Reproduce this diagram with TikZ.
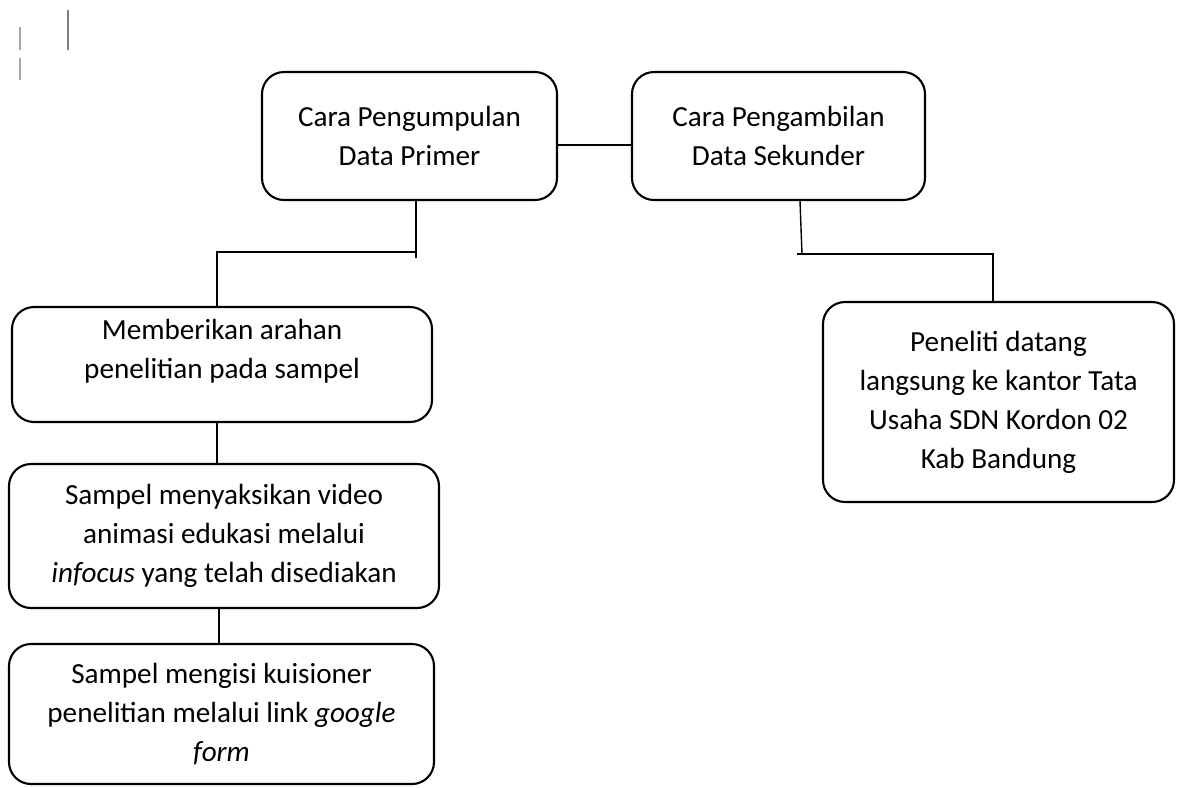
\documentclass[tikz,border=0pt]{standalone}
\usepackage{fontspec}
\setmainfont{Carlito}
\usetikzlibrary{positioning}

\tikzset{
	kotak/.style={draw, line width=0.6pt, rounded corners=0.22cm, align=center, inner sep=0pt, font=\fontsize{8.3}{11.1}\selectfont},
	garis/.style={line width=0.4pt},
}

\begin{document}
\begin{tikzpicture}
		
		\useasboundingbox (0,0) rectangle (11.77,-7.87);
		
		% sisa garis di pojok kiri atas
		\draw[gray!70, line width=0.5pt] (0.20,-0.27) -- (0.20,-0.50);
		\draw[gray!70, line width=0.5pt] (0.20,-0.58) -- (0.20,-0.80);
		\draw[gray, line width=0.6pt] (0.68,-0.10) -- (0.68,-0.50);
		
		\node[kotak, minimum width=2.95cm, minimum height=1.28cm] (primer) at (4.095,-1.36) {Cara Pengumpulan\\Data Primer};
		\node[kotak, minimum width=2.93cm, minimum height=1.28cm] (sekunder) at (7.785,-1.36) {Cara Pengambilan\\Data Sekunder};
		
		% teks kotak ini agak ke atas
		\node[kotak, minimum width=4.20cm, minimum height=1.15cm] (arahan) at (2.22,-3.645) {Memberikan arahan\\penelitian pada sampel\\[-2pt]\mbox{}};
		\node[kotak, minimum width=4.30cm, minimum height=1.44cm] (video) at (2.24,-5.36) {Sampel menyaksikan video\\animasi edukasi melalui\\\textit{infocus} yang telah disediakan};
		\node[kotak, minimum width=4.25cm, minimum height=1.40cm] (kuesioner) at (2.215,-7.14) {Sampel mengisi kuisioner\\penelitian melalui link \textit{google}\\\textit{form}};
		
		\node[kotak, minimum width=3.51cm, minimum height=2.00cm] (peneliti) at (9.985,-4.02) {Peneliti datang\\langsung ke kantor Tata\\Usaha SDN Kordon 02\\Kab Bandung};
		
		\coordinate (cabang1) at (4.16,-2.52);
		\coordinate (cabang2) at (8.02,-2.54);
		
		\draw[garis] ([yshift=-0.09cm]primer.east) -- ([yshift=-0.09cm]sekunder.west);
		
		\draw[garis] (primer.south -| cabang1) -- ([yshift=-0.06cm]cabang1);
		\draw[garis] (cabang1) -| ([xshift=-0.05cm]arahan.north);
		\draw[garis] ([xshift=-0.05cm]arahan.south) -- ([xshift=-0.07cm]video.north);
		\draw[garis] ([xshift=-0.05cm]video.south) -- ([xshift=-0.025cm]kuesioner.north);
		
		\draw[garis] ([xshift=0.215cm]sekunder.south) -- (cabang2);
		\draw[garis] ([xshift=-0.05cm]cabang2) -| ([xshift=-0.055cm]peneliti.north);
		
	\end{tikzpicture}
\end{document}
